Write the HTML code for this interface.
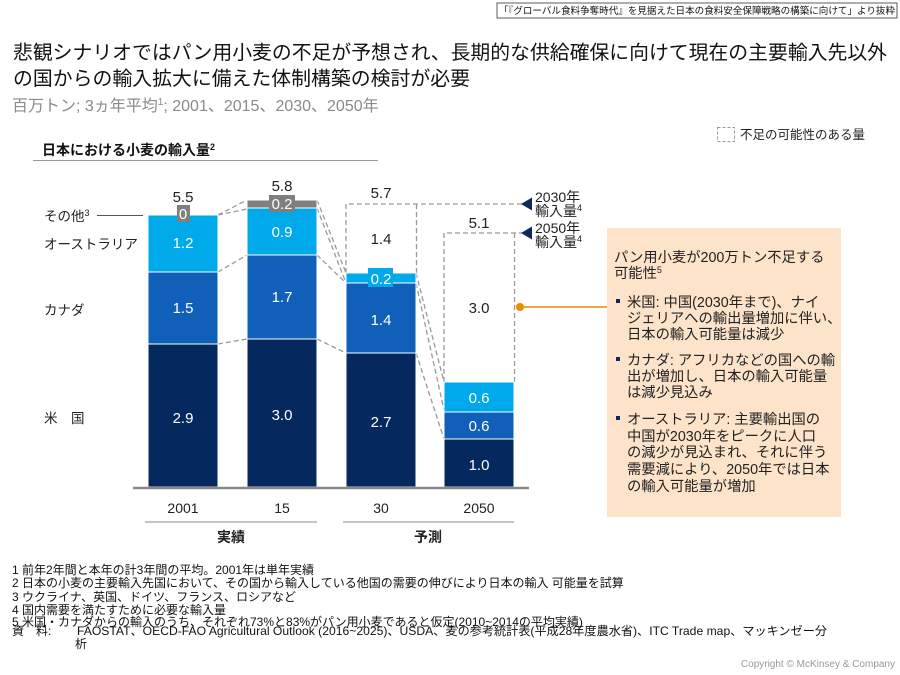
<!DOCTYPE html>
<html><head><meta charset="utf-8"><style>
html,body{margin:0;padding:0;background:#fff;}
svg{display:block;font-family:"Liberation Sans","Noto Sans CJK JP",sans-serif;}
</style></head><body>
<svg width="900" height="675" viewBox="0 0 900 675" xmlns="http://www.w3.org/2000/svg">
<!-- top-right excerpt box -->
<rect x="497" y="3" width="400" height="15" fill="#fff" stroke="#333" stroke-width="0.8"/>
<text x="499" y="14" font-size="9.5" fill="#111" textLength="396" lengthAdjust="spacingAndGlyphs">「『グローバル食料争奪時代』を見据えた日本の食料安全保障戦略の構築に向けて」より抜粋</text>

<!-- title -->
<text x="13" y="59" font-size="19.5" fill="#111" textLength="874" lengthAdjust="spacingAndGlyphs">悲観シナリオではパン用小麦の不足が予想され、長期的な供給確保に向けて現在の主要輸入先以外</text>
<text x="13" y="85" font-size="19.5" fill="#111" textLength="457" lengthAdjust="spacingAndGlyphs">の国からの輸入拡大に備えた体制構築の検討が必要</text>
<text x="12" y="111" font-size="16" fill="#8a8a8a">百万トン; 3ヵ年平均<tspan font-size="10" dy="-6">1</tspan><tspan dy="6">; 2001、2015、2030、2050年</tspan></text>

<!-- legend -->
<rect x="717.5" y="127.5" width="17" height="14" fill="none" stroke="#999" stroke-width="1" stroke-dasharray="3,2"/>
<text x="740" y="139" font-size="12.5" fill="#222">不足の可能性のある量</text>

<!-- chart title -->
<text x="42" y="155" font-size="14" font-weight="bold" fill="#111">日本における小麦の輸入量<tspan font-size="9" dy="-5">2</tspan></text>
<line x1="33" y1="160.5" x2="378" y2="160.5" stroke="#999" stroke-width="1"/>

<!-- connectors -->
<g stroke="#999" stroke-width="1.3" stroke-dasharray="5,3" fill="none">
<line x1="218" y1="215" x2="247" y2="200"/>
<line x1="218" y1="215" x2="247" y2="209"/>
<line x1="218" y1="272" x2="247" y2="255"/>
<line x1="218" y1="344" x2="247" y2="339"/>
<line x1="317" y1="200" x2="346" y2="273"/>
<line x1="317" y1="208" x2="346" y2="283"/>
<line x1="317" y1="255" x2="346" y2="283"/>
<line x1="317" y1="339" x2="346" y2="353"/>
<line x1="416" y1="273" x2="444" y2="382"/>
<line x1="416" y1="283" x2="444" y2="410"/>
<line x1="416" y1="353" x2="444" y2="439"/>
<!-- dashed boxes -->
<polyline points="346,273 346,204 522,204"/>
<line x1="416.5" y1="204" x2="416.5" y2="273"/>
<polyline points="444,382 444,233 522,233"/>
<line x1="514.5" y1="233" x2="514.5" y2="382"/>
</g>

<!-- bars -->
<g stroke="#fff" stroke-width="1">
<!-- 2001 -->
<rect x="148" y="215" width="70" height="57" fill="#00a9ea"/>
<rect x="148" y="272" width="70" height="72" fill="#1060b9"/>
<rect x="148" y="344" width="70" height="143" fill="#05285f"/>
<!-- 2015 -->
<rect x="247" y="200" width="70" height="8" fill="#7f7f7f"/>
<rect x="247" y="208" width="70" height="47" fill="#00a9ea"/>
<rect x="247" y="255" width="70" height="84" fill="#1060b9"/>
<rect x="247" y="339" width="70" height="148" fill="#05285f"/>
<!-- 2030 -->
<rect x="346" y="273" width="70" height="10" fill="#00a9ea"/>
<rect x="346" y="283" width="70" height="70" fill="#1060b9"/>
<rect x="346" y="353" width="70" height="134" fill="#05285f"/>
<!-- 2050 -->
<rect x="444" y="382" width="70" height="30" fill="#00a9ea"/>
<rect x="444" y="412" width="70" height="27" fill="#1060b9"/>
<rect x="444" y="439" width="70" height="48" fill="#05285f"/>
</g>

<!-- label boxes -->
<rect x="177" y="205" width="13" height="17" fill="#7f7f7f"/>
<rect x="269" y="195" width="26" height="17" fill="#7f7f7f"/>
<rect x="368" y="268" width="25" height="19" fill="#00a9ea"/>

<!-- axis -->
<line x1="133" y1="488" x2="529" y2="488" stroke="#888" stroke-width="2.5"/>

<!-- bar values -->
<g font-size="15" fill="#fff" text-anchor="middle">
<text x="183" y="219">0</text>
<text x="183" y="248">1.2</text>
<text x="183" y="313">1.5</text>
<text x="183" y="423">2.9</text>
<text x="282" y="209">0.2</text>
<text x="282" y="237">0.9</text>
<text x="282" y="302">1.7</text>
<text x="282" y="420">3.0</text>
<text x="381" y="284">0.2</text>
<text x="381" y="325">1.4</text>
<text x="381" y="427">2.7</text>
<text x="479" y="403">0.6</text>
<text x="479" y="431">0.6</text>
<text x="479" y="470">1.0</text>
</g>
<g font-size="15" fill="#222" text-anchor="middle">
<text x="381" y="244">1.4</text>
<text x="479" y="313">3.0</text>
<text x="183" y="202">5.5</text>
<text x="282" y="191">5.8</text>
<text x="381" y="198">5.7</text>
<text x="479" y="228">5.1</text>
</g>

<!-- arrows -->
<polygon points="521,204 532,197.5 532,210.5" fill="#0b2a5b"/>
<polygon points="521,233 532,226.5 532,239.5" fill="#0b2a5b"/>
<g font-size="14" fill="#222">
<text x="535" y="202">2030年</text>
<text x="535" y="216">輸入量<tspan font-size="9" dy="-5">4</tspan></text>
<text x="535" y="233">2050年</text>
<text x="535" y="247">輸入量<tspan font-size="9" dy="-5">4</tspan></text>
</g>

<!-- left labels -->
<g font-size="13.5" fill="#222">
<text x="44" y="221">その他<tspan font-size="9" dy="-5">3</tspan></text>
<text x="44" y="249">オーストラリア</text>
<text x="44" y="315">カナダ</text>
<text x="44" y="423">米　国</text>
</g>
<line x1="97" y1="215.5" x2="143" y2="215.5" stroke="#555" stroke-width="1"/>

<!-- categories -->
<g font-size="14" fill="#222" text-anchor="middle">
<text x="183" y="513">2001</text>
<text x="282" y="513">15</text>
<text x="381" y="513">30</text>
<text x="479" y="513">2050</text>
<text x="231" y="542" font-weight="bold">実績</text>
<text x="428" y="542" font-weight="bold">予測</text>
</g>
<line x1="145" y1="522" x2="317" y2="522" stroke="#888" stroke-width="1"/>
<line x1="343" y1="522" x2="514" y2="522" stroke="#888" stroke-width="1"/>

<!-- orange callout -->
<rect x="607" y="228" width="234" height="289" fill="#fde3c9"/>
<line x1="520" y1="307" x2="607" y2="307" stroke="#ed8b00" stroke-width="1.5"/>
<circle cx="520" cy="307" r="4" fill="#ed8b00"/>
<g font-size="14.3" fill="#222">
<text x="614" y="262">パン用小麦が200万トン不足する</text>
<text x="614" y="278">可能性<tspan font-size="9" dy="-5">5</tspan></text>
<text x="627" y="307">米国: 中国(2030年まで)、ナイ</text>
<text x="627" y="323">ジェリアへの輸出量増加に伴い、</text>
<text x="627" y="339">日本の輸入可能量は減少</text>
<text x="627" y="365">カナダ: アフリカなどの国への輸</text>
<text x="627" y="381">出が増加し、日本の輸入可能量</text>
<text x="627" y="397">は減少見込み</text>
<text x="627" y="424">オーストラリア: 主要輸出国の</text>
<text x="627" y="441">中国が2030年をピークに人口</text>
<text x="627" y="457">の減少が見込まれ、それに伴う</text>
<text x="627" y="474">需要減により、2050年では日本</text>
<text x="627" y="491">の輸入可能量が増加</text>
</g>
<g fill="#0b2a5b">
<rect x="616" y="299" width="4" height="4"/>
<rect x="616" y="357" width="4" height="4"/>
<rect x="616" y="416" width="4" height="4"/>
</g>

<!-- footnotes -->
<g font-size="12" fill="#111">
<text x="12" y="574">1 前年2年間と本年の計3年間の平均。2001年は単年実績</text>
<text x="12" y="587">2 日本の小麦の主要輸入先国において、その国から輸入している他国の需要の伸びにより日本の輸入 可能量を試算</text>
<text x="12" y="601">3 ウクライナ、英国、ドイツ、フランス、ロシアなど</text>
<text x="12" y="614">4 国内需要を満たすために必要な輸入量</text>
<text x="12" y="626">5 米国・カナダからの輸入のうち、それぞれ73%と83%がパン用小麦であると仮定(2010~2014の平均実績)</text>
<text x="12" y="635">資　料:</text>
<text x="77" y="635" textLength="750" lengthAdjust="spacingAndGlyphs">FAOSTAT、OECD-FAO  Agricultural Outlook (2016~2025)、USDA、麦の参考統計表(平成28年度農水省)、ITC  Trade map、マッキンゼー分</text>
<text x="75" y="648">析</text>
</g>
<text x="895" y="667" font-size="10" fill="#999" text-anchor="end">Copyright © McKinsey &amp; Company</text>
</svg>
</body></html>
